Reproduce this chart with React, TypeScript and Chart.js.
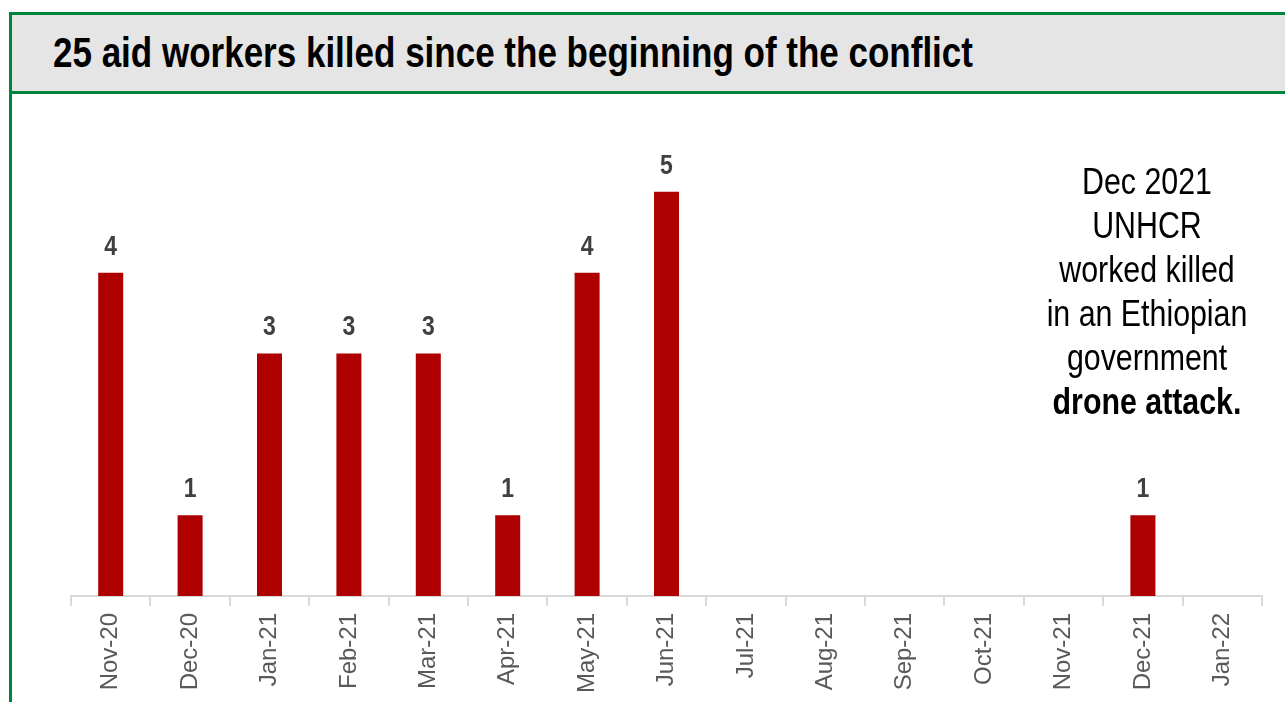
import React, { useEffect, useRef } from "react";
import { Chart, registerables } from "chart.js";

Chart.register(...registerables);

const FONT = "'Liberation Sans Narrow', 'Arial Narrow', 'Liberation Sans', Arial, sans-serif";
const NARROW = 0.82;

const titleText = "25 aid workers killed since the beginning of the conflict";
const categories = [
  "Nov-20", "Dec-20", "Jan-21", "Feb-21", "Mar-21", "Apr-21", "May-21", "Jun-21",
  "Jul-21", "Aug-21", "Sep-21", "Oct-21", "Nov-21", "Dec-21", "Jan-22",
];
const killed = [4, 1, 3, 3, 3, 1, 4, 5, 0, 0, 0, 0, 0, 1, 0];
const yMax = 6;
const noteLines = ["Dec 2021", "UNHCR", "worked killed", "in an Ethiopian", "government"];
const noteBold = "drone attack.";

const GREEN = "#00853f";
const BAR = "#ae0000";

const valueLabels = {
  id: "valueLabels",
  afterDatasetsDraw(chart: any) {
    const ctx = chart.ctx;
    const meta = chart.getDatasetMeta(0);
    meta.data.forEach((el: any, i: number) => {
      const v = killed[i];
      if (!v) return;
      ctx.save();
      ctx.font = `bold 28px ${FONT}`;
      ctx.fillStyle = "#404040";
      ctx.textAlign = "center";
      ctx.textBaseline = "alphabetic";
      ctx.translate(el.x, el.y - 18);
      ctx.scale(NARROW, 1);
      ctx.fillText(String(v), 0, 0);
      ctx.restore();
    });
  },
};

export default function App() {
  const ref = useRef<HTMLCanvasElement>(null);

  useEffect(() => {
    if (!ref.current) return;
    const chart = new Chart(ref.current, {
      type: "bar",
      data: {
        labels: categories,
        datasets: [
          {
            data: killed,
            backgroundColor: BAR,
            borderWidth: 0,
            categoryPercentage: 1,
            barPercentage: 0.315,
          },
        ],
      },
      options: {
        responsive: false,
        animation: false,
        layout: { padding: { left: 59, right: 23, top: 17, bottom: 2 } },
        plugins: {
          legend: { display: false },
          tooltip: { enabled: false },
          title: { display: false },
        },
        scales: {
          x: {
            offset: true,
            grid: {
              offset: true,
              drawOnChartArea: false,
              drawTicks: true,
              tickLength: 10,
              color: "#d9d9d9",
              lineWidth: 2,
            },
            border: { display: true, color: "#d9d9d9", width: 2 },
            ticks: {
              minRotation: 90,
              maxRotation: 90,
              padding: 7,
              color: "#595959",
              font: { family: FONT, size: 24 },
            },
          },
          y: {
            display: false,
            min: 0,
            max: yMax,
          },
        },
      },
      plugins: [valueLabels],
    });
    return () => chart.destroy();
  }, []);

  return (
    <div style={{ position: "fixed", inset: 0, overflow: "hidden", background: "#fff" }}>
      <div
        style={{
          position: "absolute",
          left: 9,
          top: 12,
          width: 1400,
          height: 800,
          borderLeft: `3px solid ${GREEN}`,
          borderTop: `3px solid ${GREEN}`,
          boxSizing: "border-box",
        }}
      />
      <div
        style={{
          position: "absolute",
          left: 12,
          top: 15,
          width: 1400,
          height: 76,
          background: "#e5e5e5",
          borderBottom: `3px solid ${GREEN}`,
        }}
      />
      <div
        style={{
          position: "absolute",
          left: 53,
          top: 31,
          fontFamily: FONT,
          fontWeight: "bold",
          fontSize: 43,
          lineHeight: "43px",
          color: "#000",
          whiteSpace: "nowrap",
          transform: "scaleX(0.814)",
          transformOrigin: "0 0",
        }}
      >
        {titleText}
      </div>
      <canvas
        ref={ref}
        width={1273}
        height={608}
        style={{ position: "absolute", left: 12, top: 94, width: 1273, height: 608, display: "block" }}
      />
      <div
        style={{
          position: "absolute",
          left: 997,
          top: 160,
          width: 300,
          textAlign: "center",
          fontFamily: FONT,
          fontSize: 37,
          lineHeight: "44px",
          color: "#000",
          whiteSpace: "nowrap",
          transform: `scaleX(${NARROW})`,
          transformOrigin: "50% 0",
        }}
      >
        {noteLines.map((l) => (
          <div key={l}>{l}</div>
        ))}
        <div style={{ fontWeight: "bold" }}>{noteBold}</div>
      </div>
    </div>
  );
}
